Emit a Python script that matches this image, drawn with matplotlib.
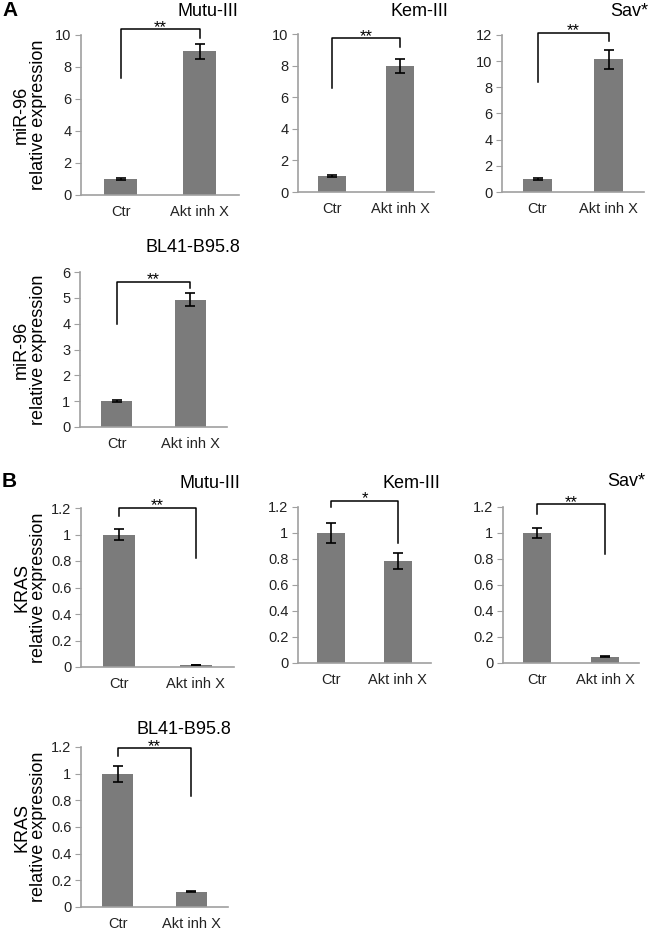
import numpy as np
import matplotlib
matplotlib.use('Agg')
import matplotlib.pyplot as plt

plt.rcParams['font.family'] = ['Liberation Sans', 'DejaVu Sans']

groups = ['Ctr', 'Akt inh X']
cell_lines = ['Mutu-III', 'Kem-III', 'Sav*', 'BL41-B95.8']

# panel A: miR-96 relative expression
mir96_ctr = [1.0, 1.0, 1.0, 1.0]
mir96_ctr_err = [0.04, 0.06, 0.07, 0.04]
mir96_akt = [8.98, 7.98, 10.15, 4.93]
mir96_akt_err = [0.45, 0.42, 0.72, 0.24]
mir96_stars = ['**', '**', '**', '**']
mir96_ymax = [10, 10, 12, 6]
mir96_ystep = [2, 2, 2, 1]

# panel B: KRAS relative expression
kras_ctr = [1.0, 1.0, 1.0, 1.0]
kras_ctr_err = [0.045, 0.08, 0.035, 0.06]
kras_akt = [0.015, 0.786, 0.05, 0.115]
kras_akt_err = [0.003, 0.06, 0.004, 0.005]
kras_stars = ['**', '*', '**', '**']

# significance brackets (top, left leg end, right leg end), data units
mir96_brackets = [(10.35, 7.3, 9.8), (9.73, 6.6, 9.2), (12.17, 8.4, 11.56), (5.63, 4.0, 5.4)]
kras_brackets = [(1.2, 1.14, 0.82), (1.25, 1.2, 0.92), (1.22, 1.15, 0.84), (1.19, 1.13, 0.83)]

W, H = 650, 932

# axes boxes in pixels: x0, x1, y_top, y_bottom
boxes_a = [(81, 239, 35, 195), (298, 434, 34, 192), (502, 644, 35, 192), (80, 227, 272, 427)]
boxes_b = [(81, 234, 508, 667), (298, 431, 507, 663), (503, 639, 507, 663), (81, 228, 747, 907)]
# title anchors (right x, centre y) in pixels
titles_a = [(238, 11), (448, 12), (648, 12), (240, 247)]
titles_b = [(240, 484), (440, 483), (645, 482), (231, 729)]

bar_color = '#7b7b7b'
axis_color = '#a0a0a0'


def rect(x0, x1, y0, y1):
    return [x0 / W, 1 - y1 / H, (x1 - x0) / W, (y1 - y0) / H]


def panel(ax, ctr, ctr_err, akt, akt_err, ymax, ystep, bracket, stars):
    x = np.arange(len(groups))
    ax.bar(x, [ctr, akt], width=0.42, color=bar_color, zorder=2)
    ax.errorbar(x, [ctr, akt], yerr=[ctr_err, akt_err], fmt='none', ecolor='black',
                elinewidth=1.2, capsize=3.5, capthick=1.2, zorder=3)
    ax.set_xlim(-0.5, 1.5)
    ax.set_ylim(0, ymax)
    ticks = np.arange(0, ymax + ystep / 2, ystep)
    ax.set_yticks(ticks)
    ax.set_yticklabels([f'{round(t, 2):g}' for t in ticks])
    ax.set_xticks(x)
    ax.set_xticklabels(groups)
    for s in ['top', 'right']:
        ax.spines[s].set_visible(False)
    for s in ['left', 'bottom']:
        ax.spines[s].set_color(axis_color)
        ax.spines[s].set_linewidth(1.2)
    ax.tick_params(axis='y', length=4, color=axis_color, labelsize=10.5, pad=3, labelcolor='#222222')
    ax.tick_params(axis='x', length=0, labelsize=10.5, pad=7, labelcolor='#222222')
    top, l, r = bracket
    ax.plot([0, 0, 1, 1], [l, top, top, r], color='black', lw=1.1, clip_on=False)
    ax.annotate(stars, xy=(0.5, top), xytext=(0, -4), textcoords='offset points',
                ha='center', va='bottom', fontsize=12, annotation_clip=False)


fig = plt.figure(figsize=(W / 100, H / 100), dpi=100)

for i in range(4):
    ax = fig.add_axes(rect(*boxes_a[i]))
    panel(ax, mir96_ctr[i], mir96_ctr_err[i], mir96_akt[i], mir96_akt_err[i],
          mir96_ymax[i], mir96_ystep[i], mir96_brackets[i], mir96_stars[i])
    tx, ty = titles_a[i]
    fig.text(tx / W, 1 - ty / H, cell_lines[i], ha='right', va='center', fontsize=13)

    ax = fig.add_axes(rect(*boxes_b[i]))
    panel(ax, kras_ctr[i], kras_ctr_err[i], kras_akt[i], kras_akt_err[i],
          1.2, 0.2, kras_brackets[i], kras_stars[i])
    tx, ty = titles_b[i]
    fig.text(tx / W, 1 - ty / H, cell_lines[i], ha='right', va='center', fontsize=13)

# y labels on the left column
for box, name in [(boxes_a[0], 'miR-96'), (boxes_a[3], 'miR-96'),
                  (boxes_b[0], 'KRAS'), (boxes_b[3], 'KRAS')]:
    yc = (box[2] + box[3]) / 2
    fig.text(30 / W, 1 - yc / H, name + '\nrelative expression', rotation=90,
             ha='center', va='center', multialignment='center', fontsize=13, linespacing=1.0)

fig.text(2 / W, 1 - 10 / H, 'A', fontsize=15, fontweight='bold', ha='left', va='center')
fig.text(2 / W, 1 - 481 / H, 'B', fontsize=15, fontweight='bold', ha='left', va='center')

fig.savefig('out.png', dpi=100)
